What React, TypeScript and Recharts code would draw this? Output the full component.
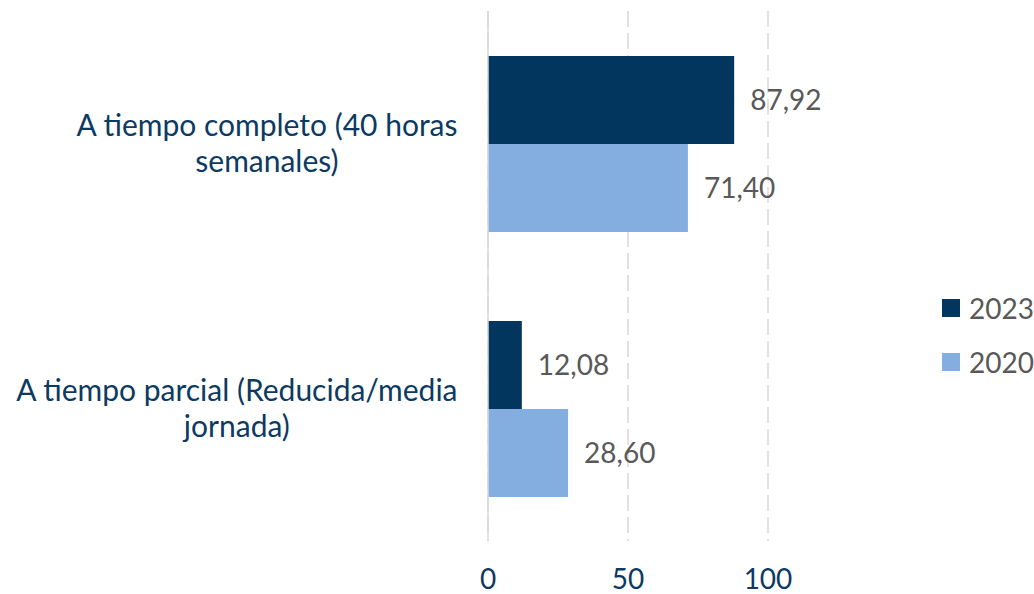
import React from "react";
import { BarChart, Bar, XAxis, YAxis, CartesianGrid, LabelList, Legend } from "recharts";

const categories = ["A tiempo completo (40 horas\nsemanales)", "A tiempo parcial (Reducida/media\njornada)"];
const values2023 = [87.92, 12.08];
const values2020 = [71.4, 28.6];
const seriesNames = ["2023", "2020"];
const xTicks = [0, 50, 100];

const COLORS = ["#03365F", "#84AEE0"];
const LABEL_COLOR = "#0C3A63";
const VALUE_COLOR = "#595959";
const FONT = "Lato, 'Open Sans', sans-serif";
const CAT_FS = 30;
const FS = 28;

const data = categories.map((name, i) => ({ name, v2023: values2023[i], v2020: values2020[i] }));

let ctx: CanvasRenderingContext2D | null = null;
function measure(text: string): number {
  if (!ctx) {
    const c = document.createElement("canvas");
    ctx = c.getContext("2d");
  }
  if (!ctx) return text.length * CAT_FS * 0.5;
  ctx.font = `${CAT_FS}px Lato`;
  return ctx.measureText(text).width;
}

const YTick = (props: any) => {
  const { y, payload } = props;
  const lines: string[] = String(payload.value).split("\n");
  const maxW = Math.max(...lines.map(measure));
  const right = 458;
  const cx = right - maxW / 2;
  const lh = 36;
  const startY = y - ((lines.length - 1) * lh) / 2;
  return (
    <text textAnchor="middle" fill={LABEL_COLOR} fontSize={CAT_FS} fontFamily={FONT}>
      {lines.map((l, i) => (
        <tspan key={i} x={cx} y={startY + i * lh} dy="0.35em">
          {l}
        </tspan>
      ))}
    </text>
  );
};

const XTick = (props: any) => {
  const { x, payload } = props;
  return (
    <text x={x} y={589} textAnchor="middle" fill={LABEL_COLOR} fontSize={FS} fontFamily={FONT}>
      {payload.value}
    </text>
  );
};

const fmt = (v: any) => Number(v).toFixed(2).replace(".", ",");

const LegendContent = () => (
  <div style={{ fontFamily: FONT, fontSize: FS, color: VALUE_COLOR }}>
    {seriesNames.map((n, i) => (
      <div key={n} style={{ display: "flex", alignItems: "center", height: 54 }}>
        <div style={{ width: 18, height: 18, background: COLORS[i], marginRight: 9 }} />
        <span style={{ lineHeight: "28px" }}>{n}</span>
      </div>
    ))}
  </div>
);

export default function App() {
  return (
    <div style={{ position: "absolute", left: 0, top: 0, width: 1034, height: 594, background: "#fff" }}>
      <BarChart
        width={1034}
        height={594}
        data={data}
        layout="vertical"
        margin={{ top: 11, right: 174, bottom: 0, left: 0 }}
        barSize={88}
        barGap={0}
      >
        <CartesianGrid horizontal={false} stroke="#D9D9D9" strokeWidth={1.5} strokeDasharray="16 6" />
        <XAxis
          type="number"
          domain={[0, 100]}
          ticks={xTicks}
          axisLine={false}
          tickLine={false}
          height={53}
          tick={<XTick />}
          interval={0}
        />
        <YAxis
          type="category"
          dataKey="name"
          width={488}
          axisLine={{ stroke: "#D9D9D9", strokeWidth: 1.5 }}
          tickLine={false}
          tick={<YTick />}
          interval={0}
        />
        <Legend
          layout="vertical"
          align="right"
          verticalAlign="top"
          content={<LegendContent />}
          wrapperStyle={{ position: "absolute", left: 942, top: 281, width: 92 }}
        />
        <Bar dataKey="v2023" name={seriesNames[0]} fill={COLORS[0]} isAnimationActive={false}>
          <LabelList dataKey="v2023" position="right" offset={16} formatter={fmt} fill={VALUE_COLOR} fontSize={FS} fontFamily={FONT} />
        </Bar>
        <Bar dataKey="v2020" name={seriesNames[1]} fill={COLORS[1]} isAnimationActive={false}>
          <LabelList dataKey="v2020" position="right" offset={16} formatter={fmt} fill={VALUE_COLOR} fontSize={FS} fontFamily={FONT} />
        </Bar>
      </BarChart>
    </div>
  );
}
